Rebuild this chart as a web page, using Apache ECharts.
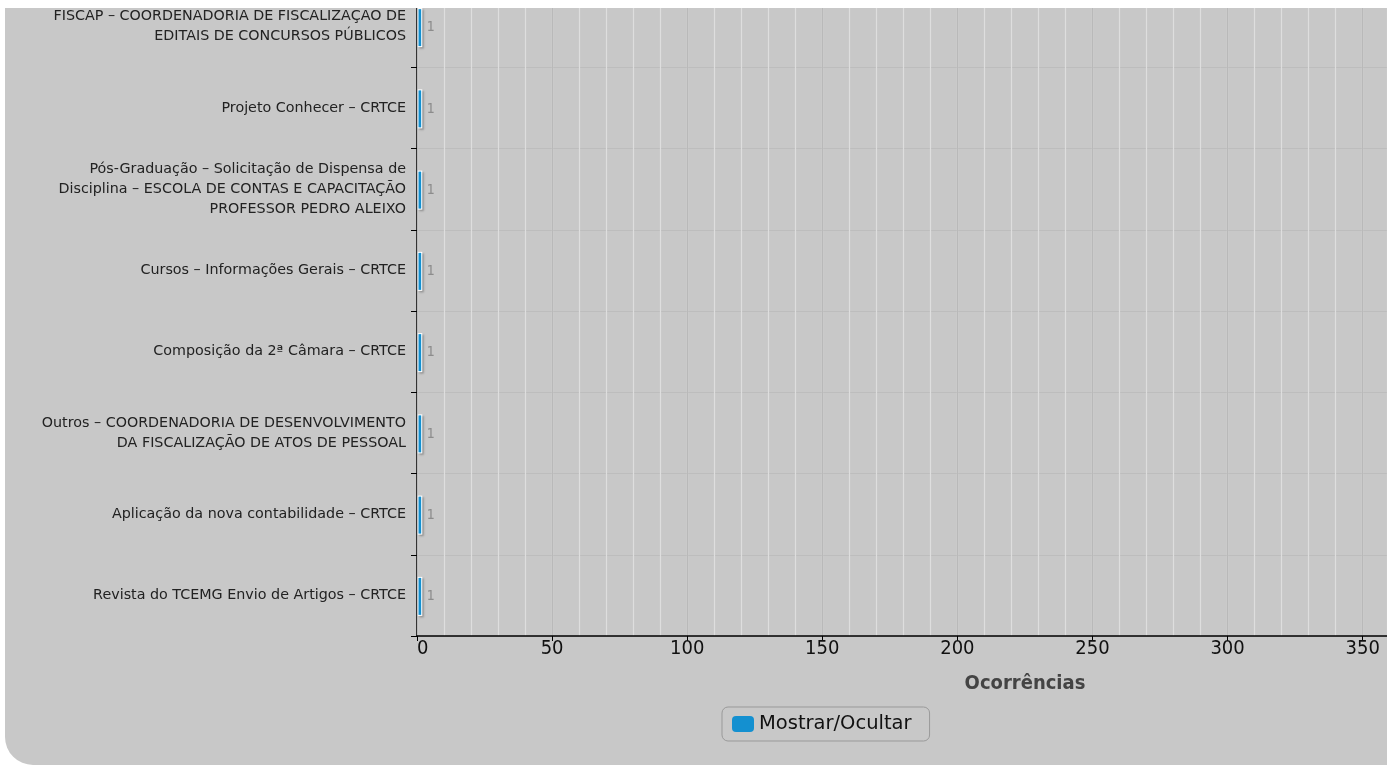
<!DOCTYPE html>
<html>
<head>
<meta charset="utf-8">
<script src="https://cdn.jsdelivr.net/npm/echarts@6/dist/echarts.min.js"></script>
<style>
html,body{margin:0;padding:0;background:#fff;width:1398px;height:765px;overflow:hidden;}
#panel{position:absolute;left:5px;top:8px;width:1382px;height:757px;background:#c8c8c8;border-bottom-left-radius:28px;overflow:hidden;}
#chart{position:absolute;left:-5px;top:-22px;width:1398px;height:787px;}
</style>
</head>
<body>
<div id="panel"><div id="chart"></div></div>
<script>
const categories = [
  "FISCAP – COORDENADORIA DE FISCALIZAÇÃO DE\nEDITAIS DE CONCURSOS PÚBLICOS",
  "Projeto Conhecer – CRTCE",
  "Pós-Graduação – Solicitação de Dispensa de\nDisciplina – ESCOLA DE CONTAS E CAPACITAÇÃO\nPROFESSOR PEDRO ALEIXO",
  "Cursos – Informações Gerais – CRTCE",
  "Composição da 2ª Câmara – CRTCE",
  "Outros – COORDENADORIA DE DESENVOLVIMENTO\nDA FISCALIZAÇÃO DE ATOS DE PESSOAL",
  "Aplicação da nova contabilidade – CRTCE",
  "Revista do TCEMG Envio de Artigos – CRTCE"
];
const values = [1, 1, 1, 1, 1, 1, 1, 1];
const seriesName = "Mostrar/Ocultar";
const axisName = "Ocorrências";
const xMin = 0, xMax = 359, xInterval = 50, xMinorInterval = 10;

const FONT_C = '"DejaVu Sans Condensed", "DejaVu Sans", sans-serif';
const FONT = '"DejaVu Sans", sans-serif';
const BAR_COLOR = '#1490d0';
const BAR_H = 37;

function renderBar(params, api) {
  const v = api.value(0), c = api.value(1);
  const p0 = api.coord([0, c]);
  const p1 = api.coord([v, c]);
  const x0 = p0[0] + 0.8;
  const w = p1[0] - p0[0];
  const y = p0[1] - BAR_H / 2 + 1;
  return {
    type: 'group',
    children: [
      {type: 'rect', shape: {x: x0, y: y - 1, width: w + 1.8, height: BAR_H + 2},
       style: {fill: '#ffffff', shadowColor: 'rgba(0,0,0,0.28)', shadowBlur: 2, shadowOffsetX: 1.5, shadowOffsetY: 1.5}},
      {type: 'rect', shape: {x: x0 + 0.7, y: y, width: w, height: BAR_H},
       style: {fill: api.visual('color')}},
      {type: 'text', style: {text: String(v), x: p1[0] + 7, y: p0[1] + 1, align: 'left', verticalAlign: 'middle',
        fill: '#8c8c8c', font: '14px "DejaVu Sans Condensed", "DejaVu Sans", sans-serif'}}
    ]
  };
}

const chart = echarts.init(document.getElementById('chart'), null, {renderer: 'canvas'});
chart.setOption({
  backgroundColor: 'transparent',
  animation: false,
  textStyle: {fontFamily: FONT},
  grid: {left: 417, right: 11, top: 0, bottom: 137, containLabel: false},
  legend: {
    data: [seriesName],
    left: 722, top: 721,
    padding: [7, 18, 7, 10],
    itemWidth: 22, itemHeight: 16,
    icon: 'roundRect',
    borderColor: '#999', borderWidth: 1, borderRadius: 6,
    itemStyle: {color: BAR_COLOR, borderWidth: 0},
    textStyle: {fontSize: 19.5, color: '#111', fontFamily: FONT}
  },
  xAxis: [
    {
      type: 'value', min: xMin, max: xMax, interval: xInterval, z: 2,
      name: axisName, nameLocation: 'middle', nameGap: 38,
      nameTextStyle: {fontSize: 20, fontWeight: 'bold', color: '#444', fontFamily: FONT_C, padding: [0, 0, 0, 246]},
      axisLine: {show: true, lineStyle: {color: '#000', width: 1.5}},
      axisTick: {show: true, length: 5, lineStyle: {color: '#000'}},
      axisLabel: {fontSize: 20, color: '#111', margin: 3, showMaxLabel: false, alignMinLabel: 'left', fontFamily: FONT_C},
      splitLine: {show: true, lineStyle: {color: '#b9b9b9', width: 1}}
    },
    {
      type: 'value', min: xMin, max: xMax, interval: xMinorInterval, z: 0,
      axisLine: {show: false}, axisTick: {show: false}, axisLabel: {show: false},
      splitLine: {show: true, lineStyle: {color: '#dedede', width: 1.2}}
    }
  ],
  yAxis: {
    type: 'category', data: categories, inverse: true,
    axisLine: {show: true, lineStyle: {color: '#000', width: 1.5}},
    axisTick: {show: true, length: 6, lineStyle: {color: '#000'}},
    axisLabel: {fontSize: 14.3, color: '#222', lineHeight: 20, margin: 11, align: 'right', fontFamily: FONT},
    splitLine: {show: true, lineStyle: {color: '#bdbdbd', width: 1}}
  },
  series: [{
    name: seriesName, type: 'custom', xAxisIndex: 0, yAxisIndex: 0,
    data: values.map((v, i) => [v, i]),
    encode: {x: 0, y: 1},
    itemStyle: {color: BAR_COLOR},
    renderItem: renderBar,
    z: 3
  }]
});
</script>
</body>
</html>
